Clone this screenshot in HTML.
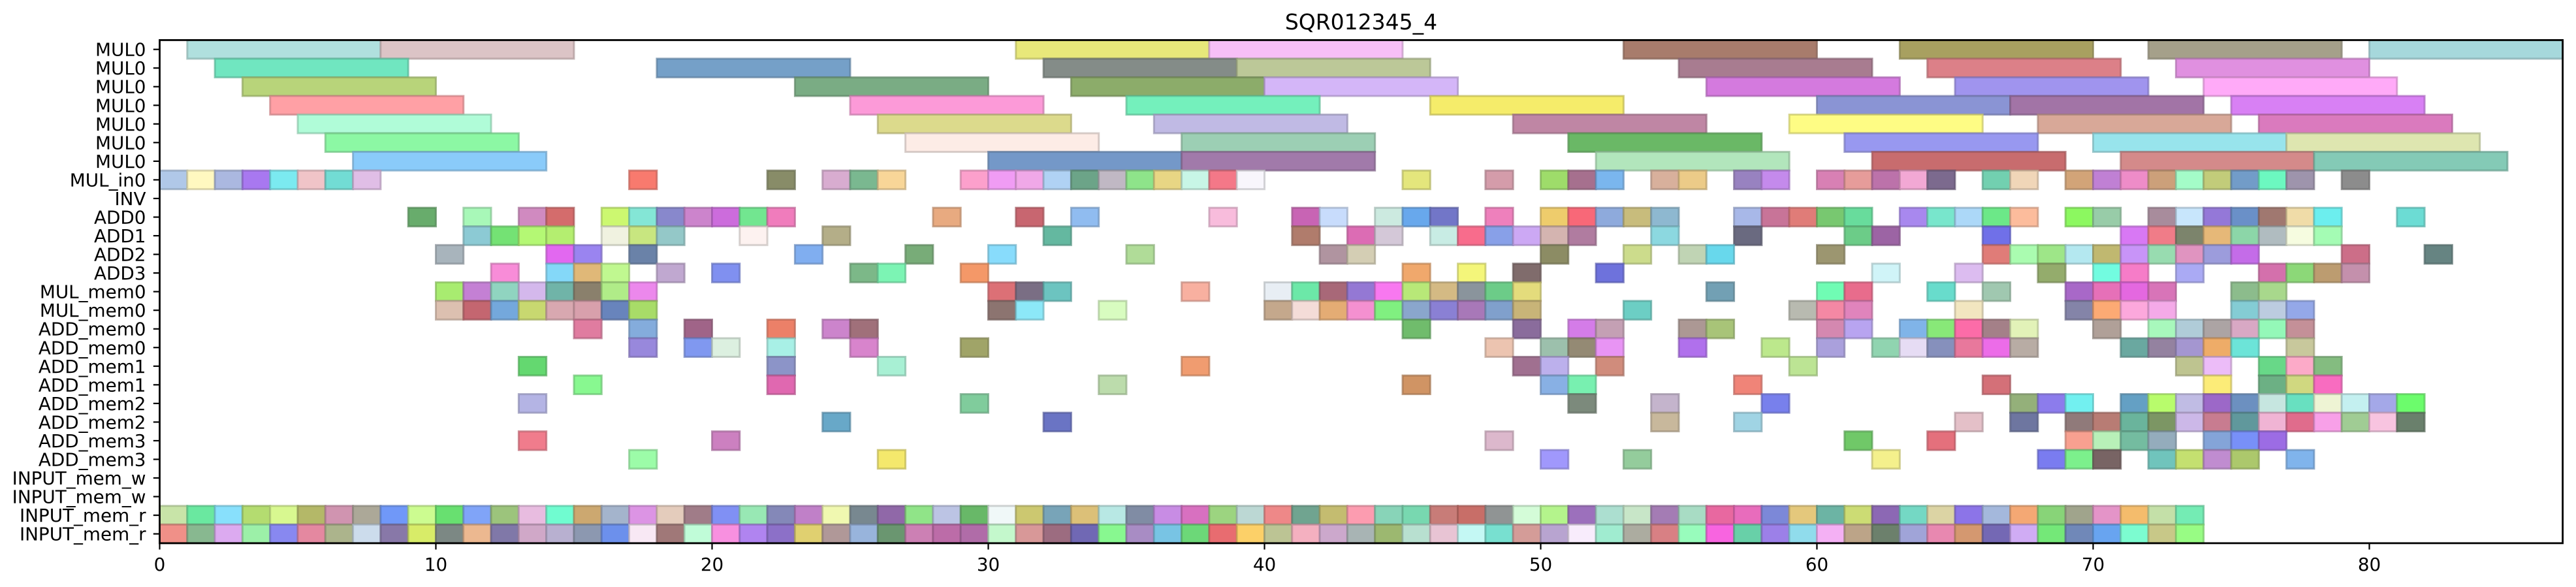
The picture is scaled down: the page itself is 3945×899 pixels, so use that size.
<!DOCTYPE html>
<html><head><meta charset="utf-8"><style>
html,body{margin:0;padding:0;background:#fff;}
svg{display:block;font-family:"DejaVu Sans","Liberation Sans",sans-serif;}
</style></head><body>
<svg id="chart" width="3945" height="899" viewBox="0 0 3945 899" xmlns="http://www.w3.org/2000/svg">
<text x="2084.5" y="45" font-size="33" text-anchor="middle" fill="#000">SQR012345_4</text>
<g id="bars"></g>
<g id="axes"></g>
</svg>
<script>
const rowLabels = ["MUL0","MUL0","MUL0","MUL0","MUL0","MUL0","MUL0","MUL_in0","INV","ADD0","ADD1","ADD2","ADD3","MUL_mem0","MUL_mem0","ADD_mem0","ADD_mem0","ADD_mem1","ADD_mem1","ADD_mem2","ADD_mem2","ADD_mem3","ADD_mem3","INPUT_mem_w","INPUT_mem_w","INPUT_mem_r","INPUT_mem_r"];
const rowDur = [7,7,7,7,7,7,7,1,1,1,1,1,1,1,1,1,1,1,1,1,1,1,1,1,1,1,1];
const xTicks = [0,10,20,30,40,50,60,70,80];
const xMax = 87;
const rowStarts = [
[1,8,31,38,53,63,72,80],
[2,18,32,39,55,64,73],
[3,23,33,40,56,65,74],
[4,25,35,46,60,67,75],
[5,26,36,49,59,68,76],
[6,27,37,51,61,70,77],
[7,30,37,52,62,71,78],
[0,1,2,3,4,5,6,7,17,22,24,25,26,29,30,31,32,33,34,35,36,37,38,39,45,48,50,51,52,54,55,57,58,60,61,62,63,64,66,67,69,70,71,72,73,74,75,76,77,79],
[],
[9,11,13,14,16,17,18,19,20,21,22,28,31,33,38,41,42,44,45,46,48,50,51,52,53,54,57,58,59,60,61,63,64,65,66,67,69,70,72,73,74,75,76,77,78,81],
[11,12,13,14,16,17,18,21,24,32,41,43,44,46,47,48,49,50,51,54,57,61,62,66,71,72,73,74,75,76,77,78],
[10,14,15,17,23,27,30,35,42,43,50,53,55,56,60,66,67,68,69,70,71,72,73,74,75,79,82],
[12,14,15,16,18,20,25,26,29,45,47,49,52,62,65,68,70,71,73,76,77,78,79],
[10,11,12,13,14,15,16,17,30,31,32,37,40,41,42,43,44,45,46,47,48,49,56,60,61,64,66,69,70,71,72,75,76],
[10,11,12,13,14,15,16,17,30,31,34,40,41,42,43,44,45,46,47,48,49,53,59,60,61,65,69,70,71,72,75,76,77],
[15,17,19,22,24,25,45,49,51,52,55,56,60,61,63,64,65,66,67,70,72,73,74,75,76,77],
[17,19,20,22,25,29,48,50,51,52,55,58,60,62,63,64,65,66,67,71,72,73,74,75,77],
[13,22,26,37,49,50,52,59,73,74,76,77,78],
[15,22,34,45,50,51,57,66,74,76,77,78],
[13,29,51,54,58,67,68,69,71,72,73,74,75,76,77,78,79,80,81],
[24,32,54,57,65,67,69,70,71,72,73,74,75,76,77,78,79,80,81],
[13,20,48,61,64,69,70,71,72,74,75,76],
[17,26,50,53,62,68,69,70,72,73,74,75,77],
[],
[],
[0,1,2,3,4,5,6,7,8,9,10,11,12,13,14,15,16,17,18,19,20,21,22,23,24,25,26,27,28,29,30,31,32,33,34,35,36,37,38,39,40,41,42,43,44,45,46,47,48,49,50,51,52,53,54,55,56,57,58,59,60,61,62,63,64,65,66,67,68,69,70,71,72,73],
[0,1,2,3,4,5,6,7,8,9,10,11,12,13,14,15,16,17,18,19,20,21,22,23,24,25,26,27,28,29,30,31,32,33,34,35,36,37,38,39,40,41,42,43,44,45,46,47,48,49,50,51,52,53,54,55,56,57,58,59,60,61,62,63,64,65,66,67,68,69,70,71,72,73]
];
const rowColors = [
["b0e0de","dcc4c6","e8e87a","f7bff7","a87c6c","a8a060","a5a08a","a6d8dc"],
["70e6c0","75a0c8","848c88","bcc898","a87c90","dc8088","e090e0"],
["b8d47a","7aac84","8cac6a","d4b6f8","d47ade","a094ee","ffaaf8"],
["ffa0a5","fc9ad8","74f0bc","f5ec6a","8a94d4","a274a6","d880f4"],
["b0fcd8","dcda8c","c0bae4","bf86a4","fefc84","d8a898","da7abe"],
["8cf8a4","fdece6","9ccfb4","6ab866","9898f0","98e4ec","dee6b0"],
["8acbfa","7498c8","a17aaa","b2e6bc","c86c6e","d48a8a","84cab6"],
["b0c8e8","fff8c0","abb8e0","a878f0","7beaf0","f0c4c8","72dcd4","e0bee6","f87a6e","888c68","d8acd0","7ab890","f8d698","fca0cc","f09cf4","f0a8e8","b0d2f4","6ca488","c0b8c4","8ee48a","e8d684","c8f6e6","f47888","f8f6fc","e4e67c","d49caa","9edc6a","a6708e","7ab6ee","d8b09c","eccb88","9882c0","c48aec","d880b4","e69c9a","bc72aa","f2a8d4","7c6a8e","72d0b0","f0d6b8","d2a478","c080d4","ee8cc8","cca07a","a4fcc8","c2cc7a","729cc8","6cf8c0","9e94ac","8c8c8c"],
[],
["68ac6c","a8f8b8","d08ac0","d46c6c","ccf870","84e6d6","8888cc","cc84cc","cc6cdc","72e690","f07cbc","e8aa80","c86670","90bcf0","f8bcdc","c864b4","c8dcfc","cceae0","68a8ec","7276c8","ee80bc","eecc6c","f86878","8eaadc","c8bc7c","8eb8d0","a8b8e8","c87498","e07c78","78c870","68dc9c","a888ee","78e6cc","acd8f8","6ce888","fcbc9c","8cf860","98cca8","a88c9c","c8e6fc","9478d8","6a90c8","a07870","f0dca8","6ceeee","6cdcd4"],
["8ccad4","74e274","b4f874","b4ee70","f0f2e0","c8e680","94c8c8","fdf2f0","b4ae88","64b8a0","b07c6c","dc6cb4","d4c8d8","c8ece4","f86c8c","88a0e8","cca8f4","d4b4b0","b07ca0","8cd8e0","6a6a80","6ccc88","9c64a4","7070e8","d878f4","f07c88","7c846c","e6b878","8cd6a8","b0bcc0","f6fce0","a4fcb4"],
["a8b4bc","e268f0","9a84f0","6a82a8","80aef0","78ac78","88dcfc","b0dc98","b094a0","d4ceb4","8c8c64","ccdc8c","c0d4b4","68d8ec","9c9670","e07c78","aafcb0","9ee688","b4e8f0","c0b870","c894f8","98dcb0","e094c0","9c9cdc","c46ce8","cc6e88","668482"],
["f88cd8","84d8f8","e0b878","c0f890","c0a8d0","8090f0","7cb888","7cf4b4","f49868","f0a86c","f4f67a","806c6c","6e72dc","d0f4f8","dcbcf0","94ac6c","72fce0","f67cc8","aaaaf4","d470ac","8cd878","bc9c70","c490ac"],
["a8ec70","c480d4","90d4c0","d4b8ec","70b4a8","8a806c","b0ec88","ec88ec","dc7076","7a6e84","6cc4c0","f8b0a0","e8eef4","6ce8a8","a86878","9478d4","f878f0","b8e878","d4ba84","8a949c","6ccc88","e4dc7c","72a0b4","70fcb4","e86c8c","68dccc","a0c8b0","a868c8","e670b8","e468e0","d874b8","8cbc8c","a8d88c"],
["dcc0b0","c46670","74a8dc","c8d870","d8a8b0","d8a0ac","6884bc","a8dc68","8c7470","8ce8f8","d8fcc0","c4a88c","f4dcd8","e4ac74","f490d0","80f080","8aa6cc","8a80d4","a878b8","80a0cc","c8b478","6ccec4","b8bab0","f488a4","e084bc","f2e6c0","8484a8","fcaa74","fca8dc","f4aae8","84ccd4","bccce0","94a8e8"],
["e07ca0","84acdc","a06488","ec8068","cc84cc","a0707a","70bc6c","8a6c9c","d47ce8","c4a0b4","ac9894","a8c478","d488b0","b8a4f0","80b4e8","88e878","fc6ca8","a48088","e2f2b8","b0a098","a8f8bc","b0ccd8","aca4a4","d8a8c4","94f8b8","c49098"],
["9888dc","8098f0","dcf0e0","a8f0e6","d884cc","a0a468","ecc4b0","9cc0ac","948a74","e894f4","b070ec","bce88c","aaa0dc","90d4b0","e6dcf4","8690bc","e8789c","ec6ce8","b8aca4","6aa8a0","9482a0","a496d0","eeac68","6ce4d8","c8c89c"],
["64d870","8c94c8","a8f0d4","f09c70","a07090","bcb0ec","d08c7c","bce494","bec490","ecbcf8","68d888","fcaac8","84bc80"],
["88f890","e068b0","bcdcac","d09464","88b0e4","78f0b0","f08478","d47078","fcec78","6cb084","d0d880","f86cc0"],
["b4b4e4","80cc9c","7c8a7c","c4b4cc","7880ec","94b07a","8c7cec","72f0f0","64a0c4","b8fc6c","c0bce4","9c68c8","6c90c0","c6e6e0","68e0c0","eef4d4","c4f0f0","a4a8e8","6cfc6c"],
["68a8c8","6a74c4","c8b89c","a0d4e4","e4c0c8","6e76a0","907a7a","b87c74","6ab49c","7c9664","ccb8e8","c87c90","60989c","f0b4d4","e06c8c","f8a0e8","a0cc94","f8c4e0","6a806c"],
["f07c8c","cc80c0","dcb8cc","70c868","e4707c","f8a090","b8f0b8","74bca0","94acbc","84a4d8","7890f8","9c6ce4"],
["9cfca8","f4e86c","a098fc","94cc9c","f4f08c","7a7cf0","7cf08c","786464","70c4bc","c4e070","c08cd0","acc86c","80b4ec"],
[],
[],
["c8e4a8","6ae8a0","88e0fc","b4dc70","d8f890","b4b868","d094b0","aca898","7098f8","ccfc90","68e070","80a4f8","9cc47c","e8bce0","70fcd0","cca870","a4b4cc","dc94e4","e4ccbc","a07c88","8090f4","98e8b4","8488b8","c080c8","f0f8b0","788890","9068a8","90e488","bcc4e4","68b868","f0f8f8","ccc870","78a4b8","dcc078","b8e8e4","808ca4","c88ce4","d870c0","9cd480","bcd8d4","ee8888","70a490","c4bc70","fc9cb0","88d4b8","78d8b0","c87c78","c86e68","909494","d4fcd8","b4f48c","9c70bc","acdfd0","c8e6c8","a47cb4","a8dcc4","e868a0","e86cbc","7c88d8","e4c87c","6cb4a4","ccdc74","8c68b4","74d8c4","dcd4a4","8c74e8","a4b8dc","f4a874","88d478","a0a48c","e494c8","f4bc6c","c4e0a8","74ecb4"],
["f09088","88b890","dcaaf0","9cf0a8","8888f0","e488a0","acb48c","ccdcec","8878a8","d8ec68","7c8884","ecb890","8078a8","d0a8c8","b8b0d0","8c98b0","6c90ec","f8e8f4","a07878","c0fcd8","f890e0","b084f0","8c70c8","e0d070","b09898","98b4dc","6a9670","cc80b4","bc6ca8","b06ca8","c4f8cc","d89898","9c6c80","7068b4","88f890","a88cc4","78c4e4","6cd878","e86c70","fcd068","bcc494","f4b0c0","cca8cc","a8b4b4","9cb870","b8e0d0","e8c4d4","c4f8f4","78e0d0","d49c98","b8a4d0","f8ecfc","a0ecd0","acaca0","d88084","98fcbc","f864e0","68d0a8","9c80e8","90dcec","f4b0f4","bca488","6c806c","a0a4d8","e888b0","d49870","7468b4","d0acf4","74e878","7088b8","68a4f0","7cfcd0","c8c888","98fc84"]
];

const NS = "http://www.w3.org/2000/svg";
const X0 = 244.5, X1 = 3924.6, Y0 = 61.4, Y1 = 831.9;
const nRows = rowLabels.length;
const rowH = (Y1 - Y0) / nRows;
function xScale(u){ return X0 + (X1 - X0) * u / xMax; }
function yScale(r){ return Y0 + rowH * (r + 0.5); }
function darker(hex){
  const n = parseInt(hex,16);
  const r = Math.round(((n>>16)&255)*0.78), g = Math.round(((n>>8)&255)*0.78), b = Math.round((n&255)*0.78);
  return "rgb("+r+","+g+","+b+")";
}
const barsG = document.getElementById('bars');
for (let r = 0; r < nRows; r++) {
  const starts = rowStarts[r], cols = rowColors[r];
  for (let i = 0; i < starts.length; i++) {
    const rect = document.createElementNS(NS, 'rect');
    const x = xScale(starts[i]), w = xScale(starts[i] + rowDur[r]) - x;
    rect.setAttribute('x', x.toFixed(1));
    rect.setAttribute('y', (yScale(r) - rowH/2).toFixed(1));
    rect.setAttribute('width', w.toFixed(1));
    rect.setAttribute('height', rowH.toFixed(1));
    rect.setAttribute('fill', '#' + (cols[i] || 'cccccc'));
    rect.setAttribute('stroke', darker(cols[i] || 'cccccc'));
    rect.setAttribute('stroke-opacity', '0.7');
    rect.setAttribute('stroke-width', '3');
    
    
    barsG.appendChild(rect);
  }
}
const axesG = document.getElementById('axes');
const frame = document.createElementNS(NS, 'rect');
frame.setAttribute('x', X0); frame.setAttribute('y', Y0);
frame.setAttribute('width', X1 - X0); frame.setAttribute('height', Y1 - Y0);
frame.setAttribute('fill', 'none'); frame.setAttribute('stroke', '#000'); frame.setAttribute('stroke-width', '2.8');


axesG.appendChild(frame);
for (const t of xTicks) {
  const x = xScale(t);
  const ln = document.createElementNS(NS, 'line');
  ln.setAttribute('x1', x); ln.setAttribute('x2', x); ln.setAttribute('y1', Y1); ln.setAttribute('y2', Y1 + 9.7);
  ln.setAttribute('stroke', '#000'); ln.setAttribute('stroke-width', '2.2');
  
  
  axesG.appendChild(ln);
  const tx = document.createElementNS(NS, 'text');
  tx.setAttribute('x', x); tx.setAttribute('y', Y1 + 42);
  tx.setAttribute('font-size', '27.8'); tx.setAttribute('text-anchor', 'middle');
  tx.textContent = t;
  
  
  axesG.appendChild(tx);
}
for (let r = 0; r < nRows; r++) {
  const y = yScale(r);
  const ln = document.createElementNS(NS, 'line');
  ln.setAttribute('x1', X0 - 9.7); ln.setAttribute('x2', X0); ln.setAttribute('y1', y); ln.setAttribute('y2', y);
  ln.setAttribute('stroke', '#000'); ln.setAttribute('stroke-width', '2.2');
  
  
  axesG.appendChild(ln);
  const tx = document.createElementNS(NS, 'text');
  tx.setAttribute('x', X0 - 21); tx.setAttribute('y', y + 10);
  tx.setAttribute('font-size', '27.8'); tx.setAttribute('text-anchor', 'end');
  tx.textContent = rowLabels[r];
  
  
  axesG.appendChild(tx);
}
</script>
</body></html>
